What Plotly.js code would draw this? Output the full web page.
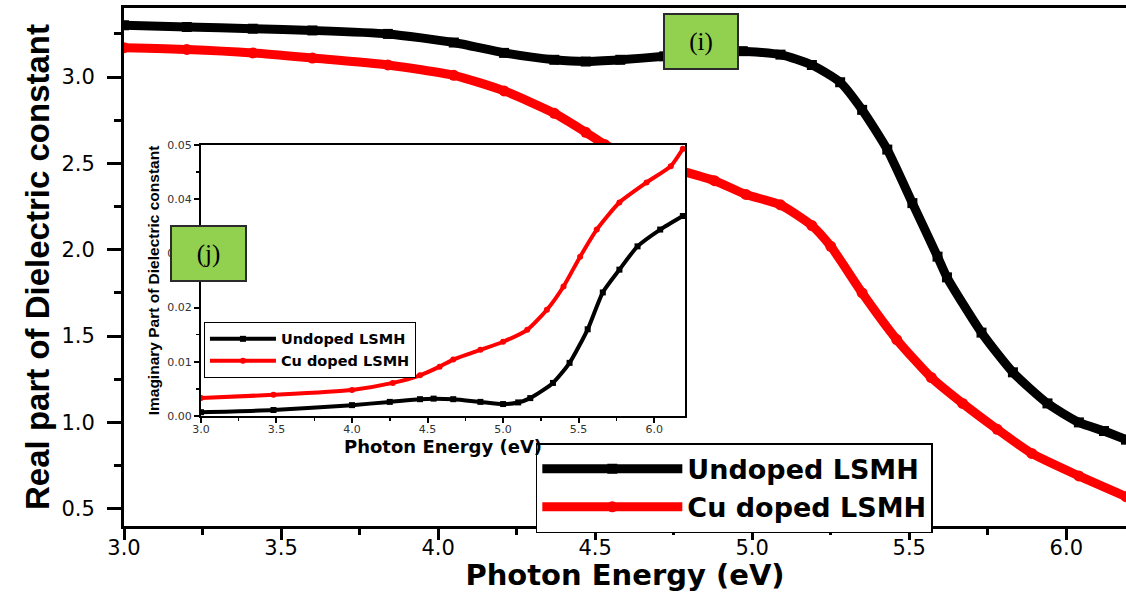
<!DOCTYPE html>
<html>
<head>
<meta charset="utf-8">
<script src="https://cdn.plot.ly/plotly-3.0.1.min.js"></script>
<style>html,body{margin:0;padding:0;background:#fff;}#chart{width:1126px;height:592px;}</style>
</head>
<body>
<div id="chart"></div>
<script>
// Main panel (i): real part of dielectric constant
const undopedRealX = [3.0, 3.2, 3.41, 3.6, 3.84, 4.05, 4.21, 4.37, 4.47, 4.58, 4.72, 4.85, 4.97, 5.09, 5.19, 5.28, 5.35, 5.43, 5.51, 5.59, 5.62, 5.73, 5.83, 5.94, 6.04, 6.12, 6.19];
const undopedRealY = [3.30, 3.29, 3.28, 3.27, 3.25, 3.20, 3.14, 3.10, 3.09, 3.10, 3.12, 3.14, 3.15, 3.13, 3.07, 2.97, 2.81, 2.58, 2.27, 1.96, 1.84, 1.52, 1.29, 1.11, 1.00, 0.95, 0.90];
const cuRealX = [3.0, 3.2, 3.41, 3.6, 3.84, 4.05, 4.21, 4.37, 4.47, 4.53, 4.64, 4.75, 4.88, 4.98, 5.09, 5.19, 5.25, 5.35, 5.46, 5.57, 5.67, 5.78, 5.89, 6.04, 6.19];
const cuRealY = [3.17, 3.16, 3.14, 3.11, 3.07, 3.01, 2.92, 2.79, 2.68, 2.61, 2.53, 2.47, 2.40, 2.32, 2.26, 2.14, 2.02, 1.75, 1.48, 1.26, 1.11, 0.96, 0.82, 0.69, 0.57];

// Inset panel (j): imaginary part of dielectric constant
const undopedImagX = [3.0, 3.48, 4.0, 4.25, 4.45, 4.54, 4.67, 4.85, 5.0, 5.1, 5.18, 5.33, 5.44, 5.56, 5.66, 5.77, 5.89, 6.04, 6.19];
const undopedImagY = [0.0007, 0.0011, 0.0020, 0.0026, 0.0031, 0.0032, 0.0031, 0.0026, 0.0022, 0.0025, 0.0033, 0.0061, 0.0098, 0.0160, 0.0228, 0.0270, 0.0313, 0.0344, 0.0369];
const cuImagX = [3.0, 3.48, 4.0, 4.27, 4.45, 4.58, 4.67, 4.85, 5.0, 5.16, 5.29, 5.40, 5.51, 5.62, 5.77, 5.95, 6.11, 6.19];
const cuImagY = [0.0033, 0.0039, 0.0048, 0.0061, 0.0075, 0.0091, 0.0104, 0.0122, 0.0137, 0.0159, 0.0196, 0.0239, 0.0294, 0.0344, 0.0394, 0.0431, 0.0461, 0.0493];

const seriesNames = ["Undoped LSMH", "Cu doped LSMH"];
const panelLabels = ["(i)", "(j)"];
const xTitle = "Photon Energy (eV)";
const yTitleMain = "Real part of Dielectric constant";
const yTitleInset = "Imaginary Part of Dielectric constant";

const traces = [
  {x: undopedRealX, y: undopedRealY, name: seriesNames[0], mode: "lines+markers", xaxis: "x", yaxis: "y", legend: "legend",
   line: {color: "#000", width: 9, shape: "spline", smoothing: 0.6}, marker: {symbol: "square", size: 10, color: "#000"}},
  {x: cuRealX, y: cuRealY, name: seriesNames[1], mode: "lines+markers", xaxis: "x", yaxis: "y", legend: "legend",
   line: {color: "#ff0000", width: 9, shape: "spline", smoothing: 0.6}, marker: {symbol: "circle", size: 11, color: "#ff0000"}},
  {x: undopedImagX, y: undopedImagY, name: seriesNames[0], mode: "lines+markers", xaxis: "x2", yaxis: "y2", legend: "legend2",
   line: {color: "#000", width: 4, shape: "spline", smoothing: 0.6}, marker: {symbol: "square", size: 6, color: "#000"}},
  {x: cuImagX, y: cuImagY, name: seriesNames[1], mode: "lines+markers", xaxis: "x2", yaxis: "y2", legend: "legend2",
   line: {color: "#ff0000", width: 4, shape: "spline", smoothing: 0.6}, marker: {symbol: "circle", size: 6, color: "#ff0000"}}
];

const tickFont = {family: "DejaVu Sans, Arial, sans-serif", size: 21, color: "#000"};
const insetTickFont = {family: "DejaVu Sans, Arial, sans-serif", size: 11, color: "#333"};

const layout = {
  width: 1126, height: 592,
  margin: {l: 124, r: 0, t: 8, b: 66},
  paper_bgcolor: "#fff", plot_bgcolor: "#fff",
  showlegend: true,
  xaxis: {
    domain: [0, 1], range: [3.0, 6.19], dtick: 0.5, tick0: 3.0, tickformat: ".1f", automargin: false,
    showgrid: false, zeroline: false, showline: true, linecolor: "#000", linewidth: 3, mirror: true,
    ticks: "outside", ticklen: 11, tickwidth: 3, tickcolor: "#000", ticklabelstandoff: -10,
    minor: {dtick: 0.25, ticklen: 6, tickwidth: 3, tickcolor: "#000", showgrid: false},
    tickfont: tickFont,
    title: {text: xTitle, font: {family: "DejaVu Sans, Arial, sans-serif", size: 29, weight: "bold", color: "#000"}, standoff: 15}
  },
  yaxis: {
    domain: [0, 1], range: [0.40, 3.40], dtick: 0.5, tick0: 0.5, tickformat: ".1f", automargin: false,
    showgrid: false, zeroline: false, showline: true, linecolor: "#000", linewidth: 3, mirror: false,
    ticks: "outside", ticklen: 14, tickwidth: 3, tickcolor: "#000", ticklabelstandoff: 8,
    minor: {dtick: 0.25, ticklen: 7, tickwidth: 3, tickcolor: "#000", showgrid: false},
    tickfont: tickFont,
    title: {text: yTitleMain, font: {family: "Liberation Sans, Arial, sans-serif", size: 33, weight: "bold", color: "#000"}, standoff: 2}
  },
  xaxis2: {
    domain: [0.0768, 0.560], anchor: "y2", range: [3.0, 6.205], dtick: 0.5, tick0: 3.0, tickformat: ".1f",
    showgrid: false, zeroline: false, showline: true, linecolor: "#000", linewidth: 2, mirror: true,
    ticks: "outside", ticklen: 5, tickwidth: 2, tickcolor: "#000", ticklabelstandoff: -3,
    minor: {dtick: 0.25, ticklen: 3, tickwidth: 1.5, tickcolor: "#000", showgrid: false},
    tickfont: insetTickFont,
    title: {text: xTitle, font: {family: "DejaVu Sans, Arial, sans-serif", size: 18, weight: "bold", color: "#000"}, standoff: 0}
  },
  yaxis2: {
    domain: [0.2124, 0.7355], anchor: "x2", range: [0, 0.05], dtick: 0.01, tickformat: ".2f",
    showgrid: false, zeroline: false, showline: true, linecolor: "#000", linewidth: 2, mirror: true,
    ticks: "outside", ticklen: 5, tickwidth: 2, tickcolor: "#000",
    minor: {dtick: 0.005, ticklen: 3, tickwidth: 1.5, tickcolor: "#000", showgrid: false},
    tickfont: insetTickFont,
    title: {text: yTitleInset, font: {family: "Liberation Sans, Arial, sans-serif", size: 15.5, weight: "bold", color: "#000"}, standoff: 4}
  },
  legend: {
    x: 0.411, y: 0.160, xanchor: "left", yanchor: "top", xref: "paper", yref: "paper",
    bgcolor: "#fff", bordercolor: "#000", borderwidth: 1.5, itemwidth: 140,
    font: {family: "DejaVu Sans, Arial, sans-serif", size: 27, weight: "bold", color: "#000"},
    tracegroupgap: 0
  },
  legend2: {
    x: 0.0798, y: 0.394, xanchor: "left", yanchor: "top", xref: "paper", yref: "paper",
    bgcolor: "#fff", bordercolor: "#000", borderwidth: 1, itemwidth: 66,
    font: {family: "DejaVu Sans, Arial, sans-serif", size: 14.5, weight: "bold", color: "#000"},
    tracegroupgap: 0
  },
  annotations: [
    {text: panelLabels[0], xref: "paper", yref: "paper", x: 0.5758, y: 0.9353, xanchor: "center", yanchor: "middle",
     showarrow: false, width: 72, height: 53, bgcolor: "#92d050", bordercolor: "#2b2b2b", borderwidth: 2, borderpad: 0,
     font: {family: "Liberation Serif, Times New Roman, serif", size: 25, color: "#000"}},
    {text: panelLabels[1], xref: "paper", yref: "paper", x: 0.0843, y: 0.526, xanchor: "center", yanchor: "middle",
     showarrow: false, width: 73, height: 53, bgcolor: "#92d050", bordercolor: "#2b2b2b", borderwidth: 2, borderpad: 0,
     font: {family: "Liberation Serif, Times New Roman, serif", size: 25, color: "#000"}}
  ]
};

Plotly.newPlot("chart", traces, layout, {displayModeBar: false, staticPlot: true});
</script>
</body>
</html>
